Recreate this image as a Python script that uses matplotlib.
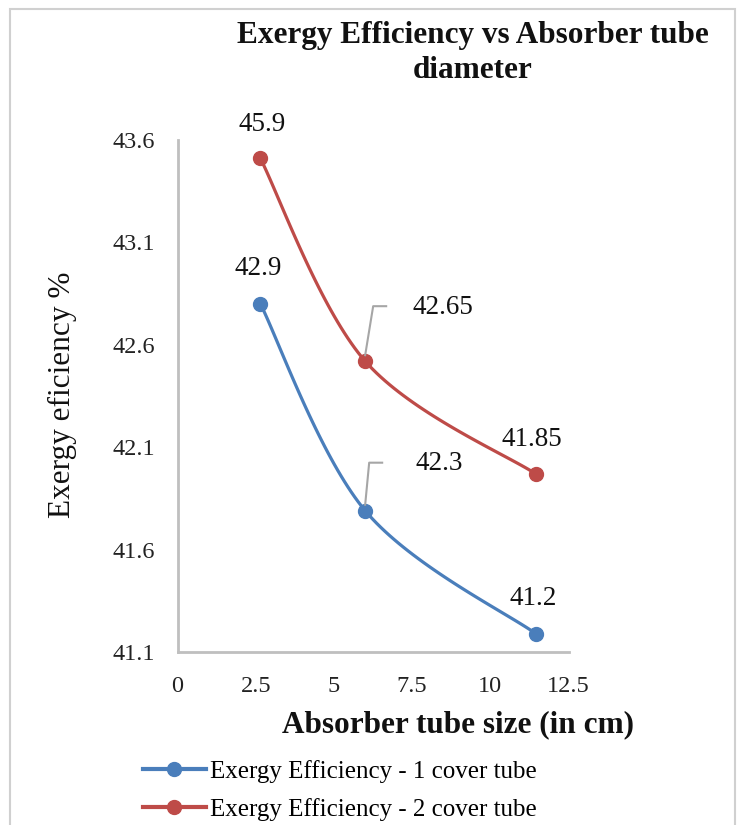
import numpy as np
import matplotlib
matplotlib.use("Agg")
import matplotlib.pyplot as plt
from matplotlib.patches import Rectangle

# data
tube_size = [2.65, 6.0, 11.45]
one_cover = [42.80, 41.79, 41.19]
two_cover = [43.51, 42.52, 41.97]
one_cover_labels = ["42.9", "42.3", "41.2"]
two_cover_labels = ["45.9", "42.65", "41.85"]
series_names = ["Exergy Efficiency - 1 cover tube", "Exergy Efficiency - 2 cover tube"]
x_ticks = [0, 2.5, 5, 7.5, 10, 12.5]
y_ticks = [41.1, 41.6, 42.1, 42.6, 43.1, 43.6]

blue = "#4a7ebb"
red = "#be4b48"

plt.rcParams["font.family"] = ["Liberation Serif", "DejaVu Serif"]


def smooth(xs, ys, sx, sy, n=40):
    # excel-like smoothed line (catmull-rom bezier), done in screen-ish units
    p = np.column_stack([np.array(xs) * sx, np.array(ys) * sy])
    p = np.vstack([p[0], p, p[-1]])
    out = []
    for i in range(1, len(p) - 2):
        p0, p1, p2, p3 = p[i - 1], p[i], p[i + 1], p[i + 2]
        c1 = p1 + (p2 - p0) / 6
        c2 = p2 - (p3 - p1) / 6
        t = np.linspace(0, 1, n)[:, None]
        seg = (1 - t) ** 3 * p1 + 3 * (1 - t) ** 2 * t * c1 + 3 * (1 - t) * t ** 2 * c2 + t ** 3 * p2
        out.append(seg)
    out = np.vstack(out)
    return out[:, 0] / sx, out[:, 1] / sy


fig = plt.figure(figsize=(7.41, 8.25), dpi=100)
fig.patches.append(Rectangle((10 / 741, -0.1), 725 / 741, 1.1 - 9 / 825, transform=fig.transFigure,
                             fill=False, edgecolor="#d0d0d0", linewidth=1.5))
ax = fig.add_axes([177.5 / 741, 1 - 652 / 825, 391 / 741, 512 / 825])

sx, sy = 31.3, 204.8
for ys, col, name in [(one_cover, blue, series_names[0]), (two_cover, red, series_names[1])]:
    cx, cy = smooth(tube_size, ys, sx, sy)
    ax.plot(cx, cy, color=col, lw=2.3, solid_capstyle="round")
    ax.plot(tube_size, ys, "o", color=col, ms=10, label=name)

ax.set_xlim(0, 12.5)
ax.set_ylim(41.1, 43.6)
ax.set_xticks(x_ticks)
ax.set_xticklabels(["0", "2.5", "5", "7.5", "10", "12.5"])
ax.set_yticks(y_ticks)
ax.set_yticklabels([f"{v:.1f}" for v in y_ticks])
ax.tick_params(length=0, labelsize=17.5, colors="#222222")
ax.tick_params(axis="y", pad=16)
ax.tick_params(axis="x", pad=17)
for s in ["top", "right"]:
    ax.spines[s].set_visible(False)
for s in ["left", "bottom"]:
    ax.spines[s].set_color("#bfbfbf")
    ax.spines[s].set_linewidth(2)

# data labels
lab_fs = 19.5
for i, (x, y) in enumerate(zip(tube_size, two_cover)):
    if i == 1:
        ax.annotate(two_cover_labels[i], (x, y), xytext=(78, 54), textcoords="offset pixels",
                    ha="center", va="center", fontsize=lab_fs, color="#111111")
        ax.plot([x, x + 8 / sx, x + 21 / sx], [y + 6 / sy, y + 55 / sy, y + 55 / sy],
                color="#a6a6a6", lw=1.5)
    else:
        dx = -4 if i == 2 else 2
        ax.annotate(two_cover_labels[i], (x, y), xytext=(dx, 34), textcoords="offset pixels",
                    ha="center", va="center", fontsize=lab_fs, color="#111111")
for i, (x, y) in enumerate(zip(tube_size, one_cover)):
    if i == 1:
        ax.annotate(one_cover_labels[i], (x, y), xytext=(74, 47), textcoords="offset pixels",
                    ha="center", va="center", fontsize=lab_fs, color="#111111")
        ax.plot([x, x + 4 / sx, x + 17 / sx], [y + 6 / sy, y + 48 / sy, y + 48 / sy],
                color="#a6a6a6", lw=1.5)
    else:
        ax.annotate(one_cover_labels[i], (x, y), xytext=(-2, 35), textcoords="offset pixels",
                    ha="center", va="center", fontsize=lab_fs, color="#111111")

fig.text(473 / 741, 1 - 35 / 825, "Exergy Efficiency vs Absorber tube", ha="center",
         va="center", fontsize=22.5, fontweight="bold", color="#111111")
fig.text(473 / 741, 1 - 71 / 825, "diameter", ha="center",
         va="center", fontsize=22.5, fontweight="bold", color="#111111")
fig.text(62 / 741, 1 - 395 / 825, "Exergy eficiency %", rotation=90, ha="center", va="center",
         fontsize=22.5, color="#111111")
fig.text(458 / 741, 1 - 725 / 825, "Absorber tube size (in cm)", ha="center", va="center",
         fontsize=22.5, fontweight="bold", color="#111111")

fig.legend(loc="upper left", bbox_to_anchor=(143 / 741, 1 - 760 / 825), frameon=False,
           fontsize=18, handlelength=2.5, handletextpad=0.2, labelspacing=0.6,
           borderaxespad=0, borderpad=0)
leg = fig.legends[0]
for h, col in zip(leg.legend_handles, [blue, red]):
    h.set_linestyle("-")
    h.set_linewidth(3)
    h.set_color(col)

fig.savefig("out.png", dpi=100)
